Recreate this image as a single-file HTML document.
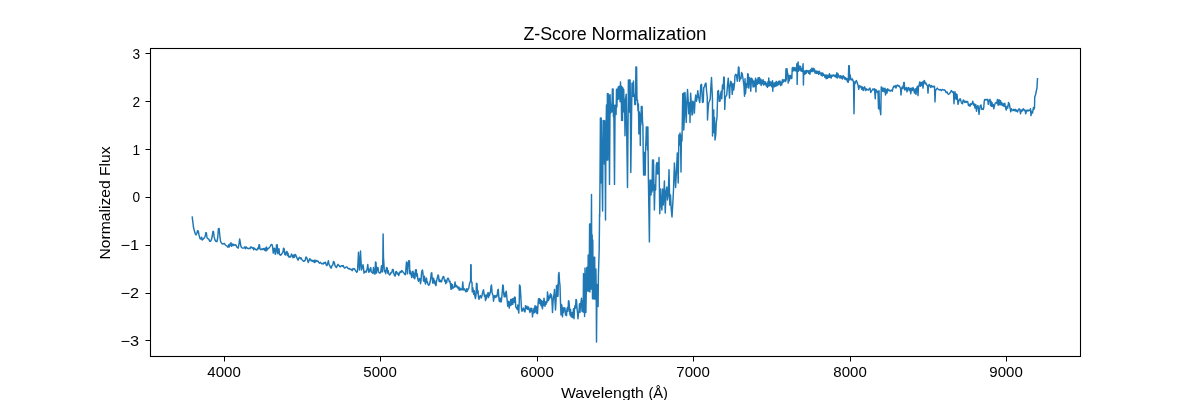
<!DOCTYPE html>
<html lang="en">
<head>
<meta charset="utf-8">
<title>Z-Score Normalization</title>
<style>
html,body{margin:0;padding:0;background:#ffffff;}
body{width:1200px;height:400px;overflow:hidden;}
svg{display:block;will-change:transform;}
text{font-family:"Liberation Sans",sans-serif;fill:#000000;}
.tick{font-size:14.30px;}
.lab{font-size:14.30px;}
.ttl{font-size:18.00px;}
</style>
</head>
<body>
<svg width="1200" height="400" viewBox="0 0 1200 400">
<rect x="0" y="0" width="1200" height="400" fill="#ffffff"/>
<clipPath id="ax"><rect x="150" y="48" width="930" height="308"/></clipPath>
<polyline clip-path="url(#ax)" fill="none" stroke="#1f77b4" stroke-width="1.45" stroke-linejoin="round" stroke-linecap="square" points="192.25,217.12 193.50,227.50 195.00,233.12 196.00,235.00 196.88,233.50 197.50,230.62 198.25,230.88 199.00,235.00 200.00,238.50 201.00,239.00 201.62,237.25 202.25,240.00 203.50,238.75 204.38,237.75 205.25,236.25 205.75,232.75 206.38,232.75 207.00,237.75 208.00,238.75 208.75,239.00 209.62,241.25 210.62,241.25 211.50,239.38 212.25,236.25 212.88,231.50 213.50,231.50 214.12,236.88 215.00,240.00 216.00,241.50 217.00,241.50 217.75,237.50 218.38,228.75 219.12,228.50 219.75,235.00 220.50,241.25 221.50,243.12 222.50,244.00 223.50,243.75 224.50,243.50 225.25,245.00 226.25,245.62 227.25,246.25 228.00,247.25 228.75,244.75 229.50,246.88 230.25,243.50 231.00,242.75 231.50,246.25 232.25,244.00 233.00,245.62 233.75,244.38 234.50,245.25 235.25,244.75 236.00,245.00 236.75,246.88 237.50,247.50 238.25,248.12 239.00,243.75 239.62,239.00 240.12,241.25 240.75,245.62 241.50,247.50 242.50,248.12 243.75,248.12 244.75,246.88 245.50,248.75 246.25,246.88 247.25,248.12 248.25,248.75 249.25,248.12 250.00,248.75 250.75,246.88 251.50,247.25 252.25,248.12 253.00,247.50 253.75,249.75 254.50,248.12 255.25,249.00 256.00,249.75 257.00,250.00 257.75,248.12 258.50,248.75 259.00,244.75 259.50,245.00 260.00,249.00 261.00,249.75 262.00,248.75 262.75,249.38 263.75,248.50 264.50,250.25 265.25,248.12 266.00,251.00 266.50,246.88 267.25,250.00 268.00,248.75 268.75,248.12 269.50,247.50 270.25,246.25 271.00,244.75 271.75,244.50 272.25,245.00 272.75,248.12 273.25,253.12 273.75,251.25 274.25,248.12 274.75,248.75 275.25,254.38 276.00,252.50 276.50,245.00 277.25,244.75 277.75,253.75 278.25,249.38 279.00,248.75 279.50,254.38 280.50,255.25 281.50,254.38 282.25,253.12 283.00,251.88 283.50,248.12 284.12,248.50 284.75,254.38 285.50,255.00 286.25,251.88 287.00,251.50 287.50,255.62 288.00,253.12 288.50,256.25 289.25,257.25 290.00,256.25 290.75,256.88 291.50,254.00 292.25,255.62 293.00,257.75 293.75,255.00 294.50,257.25 295.00,254.38 295.75,255.00 296.50,256.88 297.25,258.75 298.00,260.25 298.75,258.12 299.50,257.25 300.25,258.75 301.00,257.75 301.75,259.38 302.50,260.25 303.50,261.25 304.50,261.00 305.25,260.00 306.00,256.88 306.75,257.75 307.50,260.00 308.25,262.50 309.00,260.62 309.75,258.75 310.50,259.38 311.25,261.00 312.00,260.25 312.75,261.25 313.50,260.62 314.25,262.50 315.00,260.00 315.75,261.88 316.50,260.62 317.25,261.25 318.00,261.00 318.75,262.50 319.50,263.12 320.25,262.25 321.00,263.12 321.75,263.75 322.50,263.50 323.25,264.00 324.00,262.50 324.75,263.12 325.50,262.25 326.25,265.00 327.00,265.62 327.75,263.12 328.38,260.62 329.00,264.38 329.75,265.62 330.50,267.50 331.25,268.12 332.00,265.62 332.75,265.00 333.50,261.50 334.25,262.25 335.00,265.62 335.75,266.88 336.50,267.50 337.25,265.62 338.00,264.38 338.75,265.25 339.50,266.25 340.25,266.88 341.00,266.00 341.75,265.62 342.50,266.25 343.25,265.62 344.00,267.50 344.75,268.12 345.50,267.50 346.25,266.88 347.00,266.88 347.75,268.12 348.50,268.75 349.25,268.50 350.00,269.38 350.75,269.00 351.50,270.00 352.25,270.62 353.00,268.50 353.75,269.00 354.50,268.75 355.25,270.25 356.00,271.25 356.75,272.25 357.50,271.25 358.00,262.50 358.50,252.25 359.00,262.50 359.50,270.00 360.00,262.50 360.50,251.00 361.00,261.25 361.50,270.00 362.00,268.12 362.50,266.88 363.00,264.75 363.50,268.12 364.00,273.12 364.50,271.88 365.25,271.25 366.00,272.25 366.75,270.62 367.25,268.12 367.75,264.38 368.25,268.75 368.75,272.25 369.50,271.25 370.00,268.75 370.75,267.50 371.25,271.88 372.00,272.50 372.75,273.12 373.50,267.50 374.25,273.75 375.00,274.00 375.50,261.88 376.00,262.50 376.50,273.12 377.00,267.50 377.50,270.00 378.00,267.50 378.50,271.88 379.25,272.75 380.00,273.12 380.75,271.88 381.50,265.62 382.00,271.88 382.50,271.88 382.88,257.50 383.12,234.00 383.50,257.50 384.25,269.38 384.75,271.88 385.25,270.62 385.75,273.75 386.50,267.50 387.25,268.12 387.75,273.12 388.25,270.62 388.75,273.75 389.50,275.00 390.25,274.38 391.00,272.50 391.75,272.75 392.50,269.38 393.25,269.75 393.75,273.12 394.50,275.62 395.25,276.00 395.75,271.88 396.50,271.50 397.25,274.00 398.00,273.12 398.75,275.62 399.50,273.12 400.25,271.50 401.00,272.50 401.75,270.62 402.50,271.25 403.25,272.25 404.00,273.12 404.75,274.38 405.50,274.75 406.00,267.50 406.50,261.88 407.00,262.50 407.50,273.75 408.00,267.50 408.75,260.62 409.50,261.00 409.75,273.75 410.25,270.62 410.75,274.38 411.25,275.00 411.75,277.50 412.25,271.88 413.00,271.25 413.50,277.50 414.00,273.12 414.50,278.75 415.00,278.12 415.50,270.00 416.25,269.75 416.75,276.25 417.25,273.75 417.75,278.75 418.50,281.25 419.25,278.75 420.00,278.50 420.50,283.75 421.00,280.62 421.50,273.12 422.00,270.62 422.50,270.00 423.00,273.75 423.50,280.62 424.00,281.25 424.50,276.25 425.00,281.88 425.50,284.00 426.00,279.38 426.50,278.12 427.00,282.50 427.50,281.88 428.00,284.38 428.75,285.25 429.50,284.38 430.25,281.25 430.75,278.12 431.25,273.12 431.75,272.75 432.25,278.75 432.75,283.12 433.25,278.12 433.75,278.50 434.25,283.12 434.75,280.62 435.25,284.38 436.00,285.62 436.50,281.25 437.25,278.12 438.00,275.00 438.50,275.62 439.00,281.25 439.50,279.38 440.00,281.88 440.75,280.62 441.50,281.88 442.25,278.75 443.00,276.88 443.75,276.50 444.25,279.38 444.75,281.25 445.25,280.00 445.75,283.75 446.25,280.62 446.75,282.50 447.25,279.00 448.00,278.12 448.75,279.38 449.25,281.88 450.00,281.25 450.50,285.00 451.00,289.38 451.50,283.75 452.00,288.75 452.50,284.75 453.00,288.12 453.75,287.50 454.50,286.88 455.00,281.88 455.50,285.00 456.00,286.88 456.75,285.62 457.50,287.50 458.25,288.75 458.75,286.88 459.25,290.25 460.00,288.12 460.75,290.00 461.50,289.00 462.25,289.75 462.75,281.88 463.25,288.12 463.75,290.00 464.50,288.75 465.25,290.62 466.00,291.88 466.75,288.75 467.25,291.25 468.00,289.38 468.75,288.12 469.50,283.75 470.25,281.88 470.62,281.00 470.75,264.75 471.12,264.75 471.25,281.00 472.00,282.50 472.25,291.88 472.75,287.50 473.25,290.62 473.75,294.38 474.25,290.62 474.75,295.62 475.50,298.50 476.00,295.00 476.50,283.12 477.00,283.75 477.50,293.12 478.00,290.62 478.50,297.50 479.00,299.38 479.75,296.25 480.50,295.62 481.25,298.12 482.00,295.62 482.75,291.88 483.50,289.75 484.00,293.75 484.50,296.25 485.00,295.00 485.50,300.62 486.00,295.62 486.50,298.75 487.00,294.38 487.50,296.25 488.00,292.50 488.50,297.50 489.00,293.12 489.50,295.62 490.00,293.12 490.50,291.88 491.00,286.25 491.50,285.00 492.00,291.88 492.50,294.38 493.00,295.00 493.50,301.25 494.00,298.12 494.50,295.62 495.25,297.50 496.00,295.62 496.75,296.88 497.25,295.00 497.75,290.00 498.25,289.38 498.75,296.25 499.25,301.25 499.75,298.12 500.25,301.88 500.75,298.12 501.25,301.88 501.75,297.50 502.25,291.88 502.75,285.00 503.25,285.62 503.75,293.75 504.25,296.88 504.75,293.12 505.25,296.88 505.75,292.50 506.25,291.25 506.75,296.25 507.25,301.25 507.75,306.25 508.25,301.88 508.75,301.25 509.25,308.12 509.75,302.50 510.25,305.62 510.75,299.38 511.25,305.00 511.75,301.25 512.25,298.75 512.75,304.38 513.25,300.00 513.75,298.12 514.25,302.50 514.75,296.88 515.25,297.50 515.75,306.88 516.50,308.12 517.25,309.38 517.75,305.00 518.25,309.38 518.75,313.12 519.25,302.50 519.50,285.00 520.00,285.62 520.25,287.50 520.50,291.25 521.00,300.00 521.50,308.75 522.00,311.25 522.75,309.38 523.50,308.12 524.25,311.25 525.00,311.88 525.50,305.62 526.25,308.75 527.00,306.25 527.75,309.38 528.50,306.88 529.25,310.00 530.00,312.50 530.50,308.75 531.00,308.12 531.50,311.25 532.00,308.75 532.50,316.88 533.00,311.25 533.50,313.12 534.00,308.12 534.50,312.50 535.00,305.62 535.50,311.88 536.00,306.25 536.50,313.12 537.00,306.88 537.50,313.75 538.00,305.00 538.50,298.75 539.00,303.12 539.50,298.75 540.00,303.75 540.50,299.38 541.00,305.62 541.50,300.62 542.00,306.88 542.50,308.75 543.00,301.25 543.50,305.62 544.00,298.12 544.50,302.50 545.00,306.25 545.50,301.88 546.00,304.38 546.50,301.25 547.00,302.50 547.50,291.88 548.00,296.25 548.50,300.62 549.00,296.25 549.50,298.75 550.00,295.62 550.50,293.75 551.00,297.50 551.50,295.00 552.00,301.25 552.50,312.50 553.00,302.50 553.50,296.88 554.00,295.00 554.50,289.38 555.00,301.25 555.50,310.00 556.00,301.25 556.50,285.62 557.00,296.25 557.50,285.00 558.00,296.25 558.50,275.00 559.00,272.50 559.50,281.25 560.00,285.62 560.50,302.50 561.00,315.00 561.50,304.38 562.00,306.25 562.50,316.88 563.00,308.12 563.50,312.50 564.00,307.50 564.50,310.00 565.00,308.12 565.50,315.00 566.00,311.88 566.50,315.62 567.00,308.75 567.50,307.50 568.00,311.25 568.50,300.62 569.00,301.88 569.50,308.12 570.00,315.00 570.50,309.38 571.00,316.25 571.50,316.88 572.00,312.50 572.50,317.50 573.00,315.00 573.50,308.75 574.00,318.75 574.50,308.75 575.00,305.62 575.50,308.12 576.00,299.38 576.50,300.00 577.00,308.12 577.50,312.50 578.00,318.75 578.50,312.50 579.00,311.25 579.50,303.75 580.00,312.50 580.50,305.00 581.00,301.88 581.50,298.12 582.00,311.25 582.50,301.25 583.00,311.88 583.20,311.00 583.50,273.75 583.90,312.50 584.30,273.75 584.60,316.50 585.00,268.10 585.90,312.50 586.70,268.10 587.00,267.20 587.30,291.00 587.60,267.20 587.90,291.00 588.20,255.00 588.50,291.00 588.80,255.00 589.10,291.00 589.40,255.00 589.60,224.00 589.90,292.00 590.20,224.00 590.50,289.00 590.80,224.00 591.10,289.00 591.30,224.00 591.50,194.40 591.70,250.00 591.90,289.00 592.20,235.00 592.50,298.75 592.80,240.00 593.10,298.75 593.40,257.20 593.75,298.75 594.00,257.20 594.40,299.00 594.70,257.20 595.00,299.00 595.30,269.00 595.60,299.00 595.90,269.00 596.20,290.00 596.50,342.00 596.90,300.00 597.20,284.50 597.60,300.00 598.10,306.50 598.40,275.00 599.20,250.00 599.50,222.00 599.50,214.00 599.70,217.00 600.00,180.00 600.40,118.00 600.80,183.00 601.20,118.00 602.60,211.00 603.10,120.40 603.60,158.00 604.00,120.40 604.40,164.00 604.80,121.00 605.00,129.00 605.50,220.00 606.00,129.00 606.50,105.10 606.90,160.00 607.40,93.60 607.80,160.00 608.20,93.60 608.60,140.00 608.90,95.00 609.50,184.40 610.10,94.80 610.50,113.25 610.90,103.90 611.50,112.00 612.00,104.00 612.40,88.90 612.80,112.00 613.10,88.90 613.40,116.70 613.80,105.10 614.50,184.40 615.10,105.10 615.40,109.00 615.90,109.00 616.10,114.50 616.50,89.20 616.90,107.00 617.40,89.20 617.80,99.50 618.20,87.00 618.60,98.90 619.00,86.50 619.40,98.90 619.80,86.00 620.10,101.70 620.50,82.00 620.90,95.00 621.20,86.00 621.60,120.40 622.10,87.00 622.50,120.40 622.90,88.00 623.30,112.00 623.70,89.50 624.10,106.00 624.60,99.50 625.00,135.75 625.50,99.50 626.20,94.20 627.50,187.50 628.40,80.00 628.90,112.00 629.40,80.00 629.90,112.00 630.10,80.00 630.30,94.50 630.80,172.50 632.00,83.25 632.40,96.40 632.80,83.00 633.20,96.40 633.50,81.00 633.90,96.40 634.40,94.50 634.80,104.50 635.20,94.50 635.50,104.50 635.90,67.00 636.20,100.00 636.60,67.00 637.00,100.00 637.50,100.00 638.00,110.75 638.40,104.00 638.90,133.90 639.40,112.00 639.70,117.60 640.00,113.90 640.30,145.40 640.60,113.90 640.90,125.00 641.30,106.40 641.70,121.40 642.10,106.40 642.50,121.40 642.90,125.00 643.20,152.50 643.60,175.00 644.00,152.50 644.40,175.00 644.80,152.50 645.20,175.00 645.60,147.50 646.00,140.00 646.30,127.00 646.70,145.00 647.10,127.00 647.50,150.00 647.90,127.00 648.40,180.00 649.40,241.90 650.00,180.00 651.00,195.00 651.50,180.00 652.00,192.00 652.50,160.00 653.00,190.00 653.50,160.00 654.40,210.00 655.00,185.00 655.60,190.00 656.30,165.00 657.00,162.50 657.50,174.00 658.00,163.00 658.75,174.00 659.00,157.50 659.75,213.75 660.50,189.00 661.20,205.00 661.90,210.00 662.50,189.00 663.30,205.00 664.40,181.00 665.25,213.00 666.00,192.00 666.90,187.00 667.50,200.00 668.30,195.00 669.00,169.75 669.80,205.00 670.50,195.00 671.20,209.00 672.00,217.00 673.00,200.00 673.50,190.00 674.40,163.00 675.60,187.50 676.50,170.00 677.30,153.00 678.20,183.00 678.90,135.00 679.40,145.00 680.00,133.00 680.60,141.00 681.00,172.00 681.40,135.00 682.00,141.00 682.40,115.00 682.75,93.75 683.75,93.12 683.75,130.00 684.50,115.00 685.00,92.50 685.62,106.25 686.25,122.50 686.88,102.50 687.50,89.38 688.12,98.75 688.75,113.75 689.75,102.50 690.00,122.50 690.62,93.12 691.25,102.50 692.00,115.00 692.50,114.38 692.75,101.25 693.75,102.50 694.38,113.12 695.00,101.25 695.75,95.00 696.50,101.25 697.25,96.88 697.75,90.62 698.50,96.25 699.25,100.62 699.75,102.50 700.25,95.00 700.75,85.00 701.50,84.38 702.00,93.75 702.50,102.50 703.25,101.88 703.75,87.50 704.50,86.88 705.25,83.75 706.00,83.12 706.50,90.00 707.25,97.50 707.50,120.00 707.75,115.00 708.25,107.50 708.75,102.50 709.50,101.25 710.25,98.75 710.75,88.75 711.50,77.50 712.00,88.75 712.50,100.00 712.50,136.00 713.00,112.50 713.75,110.00 713.75,132.50 714.50,117.50 715.00,140.00 715.75,135.00 716.25,123.00 717.00,117.50 717.75,91.25 718.50,90.62 719.25,101.25 720.00,101.25 720.50,95.00 721.25,91.25 721.75,98.75 722.50,85.00 723.25,88.75 723.75,76.88 724.25,77.50 724.75,109.38 725.25,97.50 726.00,96.25 726.75,95.00 727.50,85.00 728.25,78.12 728.75,85.00 729.50,98.12 730.00,87.50 730.75,81.25 731.50,82.50 732.25,94.38 733.00,83.75 733.75,90.00 734.50,83.75 735.00,75.62 735.75,74.38 736.50,75.00 737.25,81.25 738.00,73.75 738.50,66.88 739.00,67.50 739.50,81.25 740.25,77.50 741.00,78.75 741.50,72.50 742.25,73.75 743.00,78.75 743.50,82.50 744.00,86.25 744.50,96.25 745.00,78.75 745.50,93.75 746.25,83.75 747.00,87.50 747.75,73.75 748.25,74.38 748.75,88.12 749.50,77.50 750.25,78.75 750.75,91.25 751.50,78.12 752.50,79.74 753.05,87.04 753.75,81.08 754.30,86.68 755.62,78.12 755.92,91.88 756.23,82.94 756.88,79.92 757.42,84.20 758.12,77.64 758.67,83.15 759.38,77.60 759.92,83.86 760.62,78.92 761.17,85.41 761.88,80.30 762.42,83.82 763.12,79.65 763.67,85.14 764.38,81.37 764.92,84.18 765.62,81.89 766.17,86.01 766.88,83.39 767.42,87.40 768.12,81.19 768.67,86.05 768.75,77.94 769.30,85.89 770.00,81.37 770.55,85.54 771.25,82.27 771.80,86.85 772.50,80.62 772.80,91.25 773.10,84.34 773.75,83.13 774.30,86.77 775.00,82.71 775.55,86.15 776.25,81.35 776.80,85.89 777.50,82.29 778.05,84.97 778.75,81.11 779.30,84.10 780.00,80.99 780.55,85.59 781.25,82.19 781.80,84.87 782.50,79.70 783.05,82.37 783.75,79.83 784.30,81.11 785.00,79.55 785.55,81.56 786.00,68.75 786.30,80.00 786.60,72.69 787.00,68.82 787.55,73.44 787.88,73.75 788.17,83.12 788.48,77.03 788.75,75.66 789.30,80.81 790.00,75.23 790.55,78.63 791.25,75.68 791.80,78.50 792.25,67.92 792.80,71.25 793.12,67.35 793.67,70.63 794.38,67.62 794.92,70.70 795.62,67.89 796.17,71.08 796.88,63.75 797.17,84.38 797.48,70.97 798.12,61.88 798.42,71.25 798.73,65.16 799.38,66.95 799.92,70.23 800.62,66.35 801.17,71.24 801.88,68.83 802.42,71.58 803.12,63.75 803.42,85.00 803.73,71.19 804.38,71.07 804.92,74.27 805.62,70.63 806.17,73.31 806.88,70.34 807.42,71.91 808.12,70.65 808.67,73.25 809.38,70.85 809.92,74.22 810.62,69.44 811.17,71.66 811.88,68.29 812.42,71.55 813.12,68.18 813.67,70.98 814.38,68.89 814.92,72.96 815.62,70.96 816.17,73.45 816.88,70.99 817.42,73.30 818.12,71.62 818.67,74.45 819.38,71.17 819.92,73.65 820.62,73.13 821.17,75.43 821.88,72.73 822.42,75.95 823.12,73.33 823.67,75.20 824.38,75.02 824.92,77.21 825.62,75.01 826.17,78.73 826.88,75.02 827.42,78.38 828.12,75.42 828.67,77.54 829.38,73.63 829.92,77.40 830.62,75.26 831.17,78.05 831.88,75.16 832.42,76.19 833.12,74.95 833.67,75.73 834.38,75.26 834.92,76.61 835.62,75.11 836.17,77.43 836.88,72.62 837.42,77.99 838.12,73.98 838.67,76.70 839.38,75.92 839.92,78.08 840.62,75.63 841.17,77.99 841.88,76.36 842.42,78.98 843.12,75.65 843.67,77.79 844.38,76.92 844.92,79.21 845.62,77.72 846.17,79.70 846.88,78.52 847.42,81.12 847.50,81.88 848.25,82.25 848.75,65.62 849.25,65.62 849.75,80.00 850.25,75.00 850.75,78.75 851.50,80.00 852.25,78.75 853.00,80.62 853.50,81.88 854.00,113.75 854.50,81.88 855.00,83.75 855.75,81.25 856.50,80.62 857.25,83.12 858.00,85.00 858.75,89.38 859.50,85.62 860.25,86.88 861.00,86.25 861.75,89.38 862.50,86.88 863.25,90.62 864.00,87.50 864.75,86.88 865.50,90.62 866.25,88.75 867.00,90.00 867.75,89.38 868.50,90.00 869.25,88.75 870.00,88.12 870.75,92.50 871.50,91.25 872.25,90.00 873.00,88.75 873.75,90.00 874.50,88.75 875.25,98.75 875.75,89.38 876.50,90.62 877.25,92.50 878.00,91.25 878.50,108.75 879.00,90.62 879.50,108.75 880.00,109.38 880.75,114.75 881.25,86.88 882.00,87.50 882.75,91.25 883.50,88.12 884.25,91.88 885.00,88.12 885.50,95.00 886.25,89.38 887.00,93.12 887.75,88.75 888.50,90.62 889.25,90.00 890.00,91.25 890.75,90.62 891.50,90.00 892.25,91.25 893.00,88.12 893.75,86.25 894.50,86.88 895.25,85.62 896.00,88.12 896.75,85.62 897.50,85.00 898.25,86.25 899.00,85.62 899.75,86.88 900.50,88.12 901.00,95.00 901.50,88.75 902.25,86.88 903.00,88.75 903.75,82.50 904.25,82.50 904.75,90.00 905.50,89.38 906.25,87.50 907.00,91.88 907.75,88.12 908.50,87.50 909.25,90.62 910.00,88.12 910.75,93.75 911.50,88.12 912.25,90.62 913.00,87.50 913.75,90.00 914.50,93.12 915.25,88.75 916.00,94.38 916.75,88.12 917.50,86.25 918.00,95.62 918.50,86.88 919.25,84.38 919.75,81.88 920.25,86.25 921.00,82.50 921.75,85.62 922.50,81.88 923.00,88.12 923.75,81.25 924.50,80.62 925.25,83.75 926.00,83.12 926.75,85.00 927.50,85.62 928.00,93.12 928.50,86.25 929.25,84.38 930.00,85.62 930.75,87.50 931.50,85.62 932.25,86.88 933.00,86.25 933.75,86.88 934.00,86.50 934.50,86.25 935.00,101.88 935.50,90.62 936.25,89.38 937.25,88.12 938.25,89.38 939.25,90.00 940.25,89.38 941.25,90.62 942.25,89.38 943.25,90.00 944.25,89.75 945.25,90.62 946.00,92.50 947.00,91.88 947.75,93.75 948.75,94.38 949.75,93.12 950.50,92.50 951.25,90.62 952.00,91.25 952.75,92.50 953.50,91.88 954.00,103.75 954.50,92.50 955.00,91.88 955.50,98.75 956.00,93.75 956.50,99.38 957.00,94.38 957.50,99.38 958.00,104.38 958.75,101.25 959.50,99.38 960.25,98.75 961.00,101.25 961.75,103.12 962.50,103.75 963.25,100.00 964.00,100.62 964.75,102.50 965.50,101.25 966.25,102.50 967.00,101.25 967.75,101.88 968.50,105.62 969.25,104.38 970.00,106.25 970.75,103.75 971.50,104.38 972.25,103.12 972.75,101.25 973.50,105.00 974.25,103.75 975.00,108.12 975.75,104.38 976.50,111.25 977.25,106.25 978.00,105.62 978.50,108.75 979.00,114.38 979.50,110.00 980.25,105.62 981.00,105.00 981.75,109.38 982.50,108.75 983.25,109.38 983.75,107.50 984.25,101.25 984.75,99.38 985.50,100.00 986.25,99.38 987.00,100.00 987.75,99.38 988.25,104.38 988.75,101.25 989.50,100.00 990.00,99.38 990.50,105.62 991.00,101.25 991.50,106.25 992.00,102.50 992.50,106.25 993.25,104.38 993.75,108.75 994.50,105.62 995.25,103.12 996.00,102.50 996.75,103.12 997.50,99.38 998.00,105.00 998.50,100.00 999.00,105.00 999.50,100.00 1000.00,104.38 1000.50,100.62 1001.00,105.00 1001.75,102.50 1002.50,105.62 1003.25,103.75 1004.00,106.25 1004.75,103.12 1005.50,107.50 1006.25,110.00 1007.00,106.25 1007.75,108.12 1008.50,102.50 1009.25,103.75 1010.00,107.50 1010.75,111.88 1011.50,108.75 1012.25,110.00 1013.00,110.62 1013.75,109.38 1014.50,110.62 1015.25,109.38 1016.00,111.25 1016.75,110.00 1017.50,111.88 1018.25,110.00 1019.00,108.75 1019.75,109.38 1020.50,113.75 1021.25,110.00 1022.00,111.25 1022.75,109.38 1023.50,108.75 1024.25,110.62 1025.00,110.00 1025.75,113.75 1026.50,110.62 1027.25,110.00 1028.00,111.25 1028.75,110.00 1029.50,110.62 1030.00,110.62 1030.50,108.75 1031.00,115.62 1031.50,112.50 1032.00,111.25 1032.50,113.12 1033.00,110.00 1033.50,107.50 1034.00,109.38 1034.50,107.50 1034.75,96.88 1035.50,95.00 1036.25,91.25 1037.00,87.50 1037.50,78.75"/>
<g fill="#000000">
<rect x="224" y="357" width="1" height="4.5"/>
<rect x="380" y="357" width="1" height="4.5"/>
<rect x="537" y="357" width="1" height="4.5"/>
<rect x="693" y="357" width="1" height="4.5"/>
<rect x="850" y="357" width="1" height="4.5"/>
<rect x="1006" y="357" width="1" height="4.5"/>
<rect x="145.5" y="53" width="5" height="1"/>
<rect x="145.5" y="101" width="5" height="1"/>
<rect x="145.5" y="149" width="5" height="1"/>
<rect x="145.5" y="197" width="5" height="1"/>
<rect x="145.5" y="245" width="5" height="1"/>
<rect x="145.5" y="293" width="5" height="1"/>
<rect x="145.5" y="340" width="5" height="1"/>
</g>
<rect x="150.5" y="48.5" width="930" height="308" fill="none" stroke="#000000" stroke-width="1.1"/>
<g opacity="0.999">
<text class="tick" x="224.1" y="376.6" text-anchor="middle" textLength="33.5" lengthAdjust="spacingAndGlyphs">4000</text>
<text class="tick" x="380.1" y="376.6" text-anchor="middle" textLength="33.5" lengthAdjust="spacingAndGlyphs">5000</text>
<text class="tick" x="537.1" y="376.6" text-anchor="middle" textLength="33.5" lengthAdjust="spacingAndGlyphs">6000</text>
<text class="tick" x="693.1" y="376.6" text-anchor="middle" textLength="33.5" lengthAdjust="spacingAndGlyphs">7000</text>
<text class="tick" x="850.1" y="376.6" text-anchor="middle" textLength="33.5" lengthAdjust="spacingAndGlyphs">8000</text>
<text class="tick" x="1006.1" y="376.6" text-anchor="middle" textLength="33.5" lengthAdjust="spacingAndGlyphs">9000</text>
<text class="tick" x="140.0" y="58.70" text-anchor="end" textLength="7.6" lengthAdjust="spacingAndGlyphs">3</text>
<text class="tick" x="140.0" y="106.70" text-anchor="end" textLength="7.6" lengthAdjust="spacingAndGlyphs">2</text>
<text class="tick" x="140.0" y="154.70" text-anchor="end" textLength="7.6" lengthAdjust="spacingAndGlyphs">1</text>
<text class="tick" x="140.0" y="201.70" text-anchor="end" textLength="7.6" lengthAdjust="spacingAndGlyphs">0</text>
<text class="tick" x="139.1" y="249.70" text-anchor="end" textLength="18.6" lengthAdjust="spacingAndGlyphs">−1</text>
<text class="tick" x="139.1" y="297.70" text-anchor="end" textLength="18.6" lengthAdjust="spacingAndGlyphs">−2</text>
<text class="tick" x="139.1" y="345.70" text-anchor="end" textLength="18.6" lengthAdjust="spacingAndGlyphs">−3</text>
<text class="ttl" y="39.6" lengthAdjust="spacingAndGlyphs"><tspan x="523.4" textLength="63.4" lengthAdjust="spacingAndGlyphs">Z-Score</tspan> <tspan x="591.6" textLength="115.0" lengthAdjust="spacingAndGlyphs">Normalization</tspan></text>
<text class="lab" y="397.8"><tspan x="560.9" textLength="83.0" lengthAdjust="spacingAndGlyphs">Wavelength</tspan> <tspan x="648.4" textLength="19.6" lengthAdjust="spacingAndGlyphs">(Å)</tspan></text>
<text class="lab" transform="translate(109.9,203) rotate(-90)" text-anchor="middle" textLength="113" lengthAdjust="spacingAndGlyphs">Normalized Flux</text>
</g>
</svg>
</body>
</html>
